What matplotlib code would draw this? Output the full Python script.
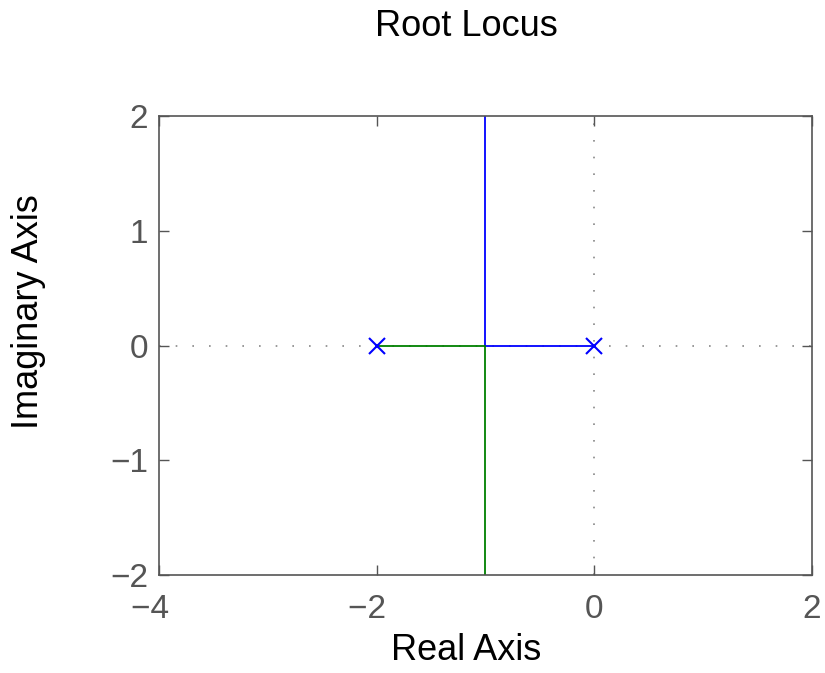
import numpy as np
import matplotlib
matplotlib.use("Agg")
import matplotlib.pyplot as plt

plt.rcParams["font.family"] = ["Liberation Sans", "DejaVu Sans"]

# open-loop poles
pole_re = [-2.0, 0.0]
pole_im = [0.0, 0.0]

# branch 1 (blue): from pole at 0 to breakaway at -1, then upward
branch1_re = [0.0, -0.5, -1.0, -1.0, -1.0, -1.0]
branch1_im = [0.0, 0.0, 0.0, 0.5, 1.0, 2.0]

# branch 2 (green): from pole at -2 to breakaway at -1, then downward
branch2_re = [-2.0, -1.5, -1.0, -1.0, -1.0, -1.0]
branch2_im = [0.0, 0.0, 0.0, -0.5, -1.0, -2.0]

x_ticks = [-4, -2, 0, 2]
y_ticks = [-2, -1, 0, 1, 2]

axis_gray = "#555555"


def x_label_text(v):
    # pad negatives with a figure space so the digit sits on the tick
    if v < 0:
        return "\u2212%d\u2007" % abs(v)
    return "%d" % v


fig = plt.figure(figsize=(8.25, 6.73), dpi=100)
ax = fig.add_axes([0.1927, 0.1456, 0.7915, 0.682])

ax.axhline(0, color="#888888", linestyle=(0, (1, 9)), linewidth=1.2, zorder=1)
ax.axvline(0, color="#888888", linestyle=(0, (1, 9)), linewidth=1.2, zorder=1)

ax.plot(branch1_re, branch1_im, color="#0000ff", linewidth=1.3, zorder=2)
ax.plot(branch2_re, branch2_im, color="#008000", linewidth=1.3, zorder=2)
ax.plot(pole_re, pole_im, linestyle="none", marker="x", markersize=12,
        markeredgewidth=1.5, color="#0000ff", zorder=3)

ax.set_xlim(-4, 2)
ax.set_ylim(-2, 2)
ax.set_xticks(x_ticks)
ax.set_xticklabels([x_label_text(v) for v in x_ticks])
ax.set_yticks(y_ticks)
ax.tick_params(direction="in", top=True, right=True, length=7, width=1,
               color=axis_gray, labelcolor=axis_gray, labelsize=24)
ax.tick_params(axis="x", pad=14)
ax.tick_params(axis="y", pad=8)
for sp in ax.spines.values():
    sp.set_color(axis_gray)
    sp.set_linewidth(1.2)

ax.set_xlabel("Real Axis", fontsize=26, va="center")
ax.xaxis.set_label_coords(0.47, -0.165)
ax.set_ylabel("Imaginary Axis", fontsize=26, va="center")
ax.yaxis.set_label_coords(-0.2, 0.574)
fig.text(0.565, 0.96, "Root Locus", ha="center", va="center", fontsize=26)

fig.savefig("out.png", dpi=100)
